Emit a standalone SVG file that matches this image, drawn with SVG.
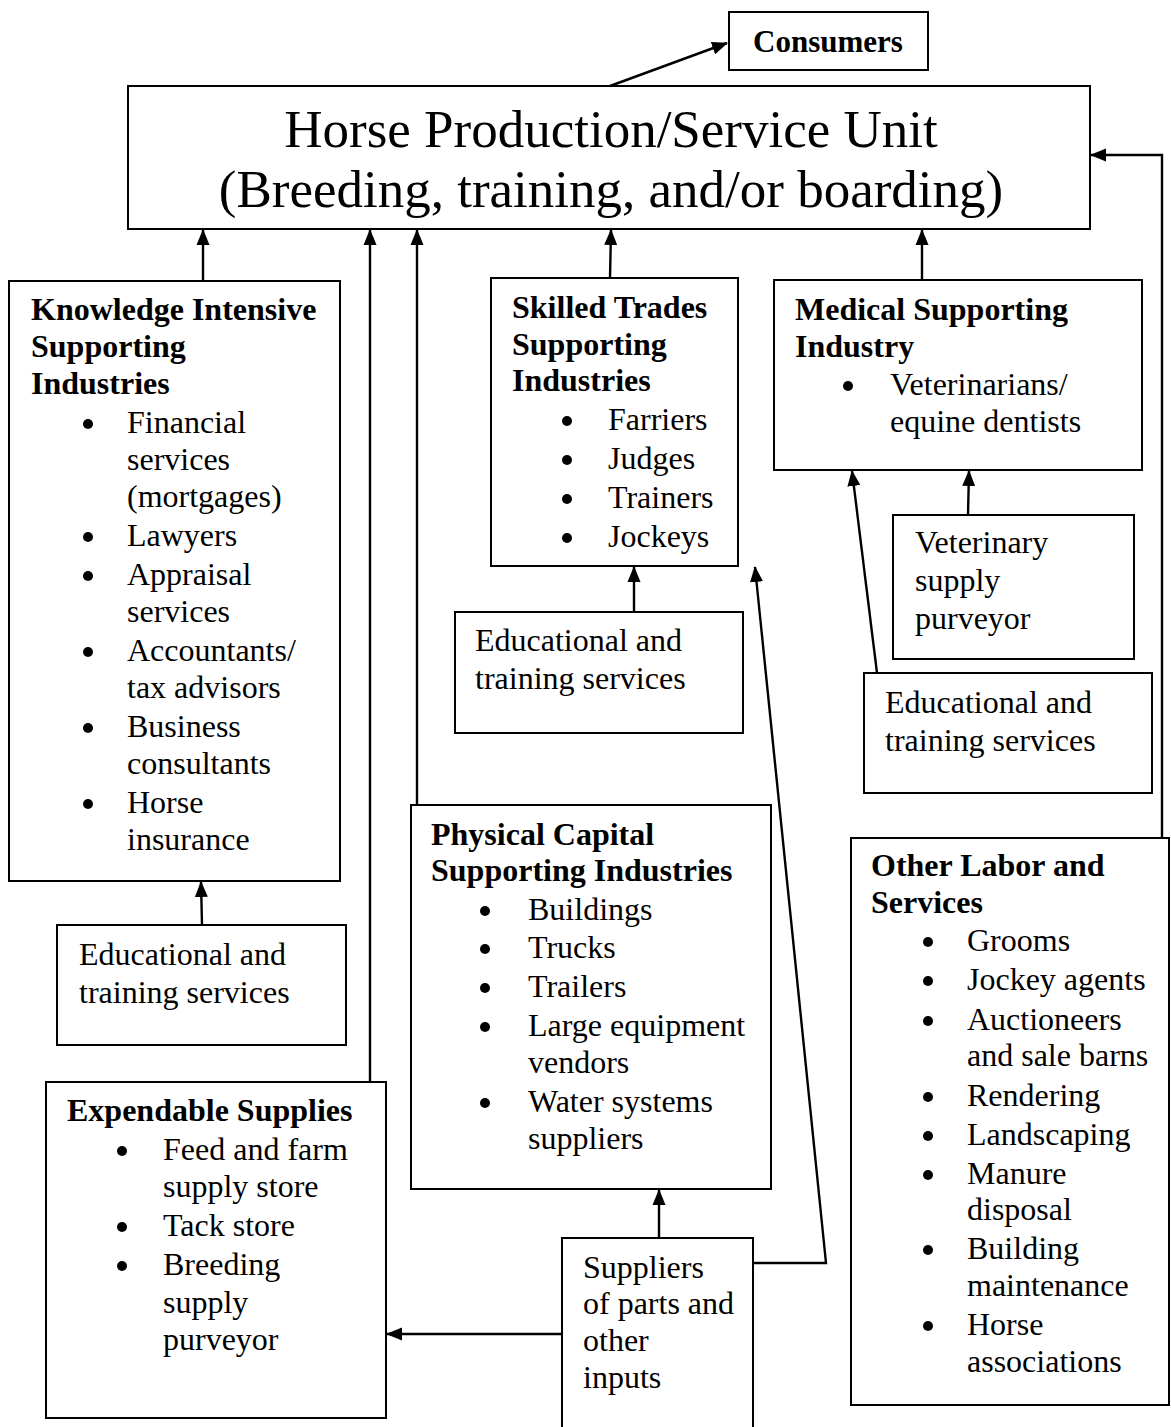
<svg xmlns="http://www.w3.org/2000/svg" width="1171" height="1427" viewBox="0 0 1171 1427">
<style>
.box{fill:#fff;stroke:#000;stroke-width:2}
text{font-family:"Liberation Serif","Times New Roman",serif;font-size:32px;fill:#000}
.b{font-weight:bold}
.big{font-size:53px}
.c{stroke:#000;stroke-width:2.4;fill:none;marker-end:url(#ah)}
.dot{fill:#000}
</style>
<defs>
<marker id="ah" markerUnits="userSpaceOnUse" markerWidth="16" markerHeight="16" viewBox="0 0 16 16" refX="15" refY="8" orient="auto">
<path d="M0,1.5 L16,8 L0,14.5 z" fill="#000"/>
</marker>
</defs>
<rect width="1171" height="1427" fill="#fff"/>

<g id="consumers">
<rect class="box" x="729" y="12" width="199" height="58"/>
<text class="b" x="828" y="52" text-anchor="middle" style="font-size:31px">Consumers</text>
</g>

<g id="main">
<rect class="box" x="128" y="86" width="962" height="143"/>
<text class="big" x="611" y="147" text-anchor="middle">Horse Production/Service Unit</text>
<text class="big" x="611" y="207" text-anchor="middle">(Breeding, training, and/or boarding)</text>
</g>

<g id="knowledge">
<rect class="box" x="9" y="281" width="331" height="600"/>
<text class="b" x="31" y="320">Knowledge Intensive</text>
<text class="b" x="31" y="357">Supporting</text>
<text class="b" x="31" y="394">Industries</text>
<circle class="dot" cx="88" cy="424" r="5"/><text x="127" y="433">Financial</text>
<text x="127" y="470">services</text>
<text x="127" y="507">(mortgages)</text>
<circle class="dot" cx="88" cy="537" r="5"/><text x="127" y="546">Lawyers</text>
<circle class="dot" cx="88" cy="576" r="5"/><text x="127" y="585">Appraisal</text>
<text x="127" y="622">services</text>
<circle class="dot" cx="88" cy="652" r="5"/><text x="127" y="661">Accountants/</text>
<text x="127" y="698">tax advisors</text>
<circle class="dot" cx="88" cy="728" r="5"/><text x="127" y="737">Business</text>
<text x="127" y="774">consultants</text>
<circle class="dot" cx="88" cy="804" r="5"/><text x="127" y="813">Horse</text>
<text x="127" y="850">insurance</text>
</g>

<g id="edu1">
<rect class="box" x="57" y="925" width="289" height="120"/>
<text x="79" y="965">Educational and</text>
<text x="79" y="1003">training services</text>
</g>

<g id="expendable">
<rect class="box" x="46" y="1082" width="340" height="336"/>
<text class="b" x="67" y="1121">Expendable Supplies</text>
<circle class="dot" cx="122" cy="1151" r="5"/><text x="163" y="1160">Feed and farm</text>
<text x="163" y="1197">supply store</text>
<circle class="dot" cx="122" cy="1227" r="5"/><text x="163" y="1236">Tack store</text>
<circle class="dot" cx="122" cy="1266" r="5"/><text x="163" y="1275">Breeding</text>
<text x="163" y="1313">supply</text>
<text x="163" y="1350">purveyor</text>
</g>

<g id="skilled">
<rect class="box" x="491" y="278" width="247" height="288"/>
<text class="b" x="512" y="318">Skilled Trades</text>
<text class="b" x="512" y="355">Supporting</text>
<text class="b" x="512" y="391">Industries</text>
<circle class="dot" cx="567" cy="421" r="5"/><text x="608" y="430">Farriers</text>
<circle class="dot" cx="567" cy="460" r="5"/><text x="608" y="469">Judges</text>
<circle class="dot" cx="567" cy="499" r="5"/><text x="608" y="508">Trainers</text>
<circle class="dot" cx="567" cy="538" r="5"/><text x="608" y="547">Jockeys</text>
</g>

<g id="edu2">
<rect class="box" x="455" y="612" width="288" height="121"/>
<text x="475" y="651">Educational and</text>
<text x="475" y="689">training services</text>
</g>

<g id="medical">
<rect class="box" x="774" y="280" width="368" height="190"/>
<text class="b" x="795" y="320">Medical Supporting</text>
<text class="b" x="795" y="357">Industry</text>
<circle class="dot" cx="848" cy="386" r="5"/><text x="890" y="395">Veterinarians/</text>
<text x="890" y="432">equine dentists</text>
</g>

<g id="vetsupply">
<rect class="box" x="893" y="515" width="241" height="144"/>
<text x="915" y="553">Veterinary</text>
<text x="915" y="591">supply</text>
<text x="915" y="629">purveyor</text>
</g>

<g id="edu3">
<rect class="box" x="864" y="673" width="288" height="120"/>
<text x="885" y="713">Educational and</text>
<text x="885" y="751">training services</text>
</g>

<g id="physical">
<rect class="box" x="411" y="805" width="360" height="384"/>
<text class="b" x="431" y="845">Physical Capital</text>
<text class="b" x="431" y="881">Supporting Industries</text>
<circle class="dot" cx="485" cy="911" r="5"/><text x="528" y="920">Buildings</text>
<circle class="dot" cx="485" cy="949" r="5"/><text x="528" y="958">Trucks</text>
<circle class="dot" cx="485" cy="988" r="5"/><text x="528" y="997">Trailers</text>
<circle class="dot" cx="485" cy="1027" r="5"/><text x="528" y="1036">Large equipment</text>
<text x="528" y="1073">vendors</text>
<circle class="dot" cx="485" cy="1103" r="5"/><text x="528" y="1112">Water systems</text>
<text x="528" y="1149">suppliers</text>
</g>

<g id="suppliers">
<rect class="box" x="562" y="1238" width="191" height="200"/>
<text x="583" y="1278">Suppliers</text>
<text x="583" y="1314">of parts and</text>
<text x="583" y="1351">other</text>
<text x="583" y="1388">inputs</text>
</g>

<g id="otherlabor">
<rect class="box" x="851" y="838" width="318" height="567"/>
<text class="b" x="871" y="876">Other Labor and</text>
<text class="b" x="871" y="913">Services</text>
<circle class="dot" cx="928" cy="942" r="5"/><text x="967" y="951">Grooms</text>
<circle class="dot" cx="928" cy="981" r="5"/><text x="967" y="990">Jockey agents</text>
<circle class="dot" cx="928" cy="1021" r="5"/><text x="967" y="1030">Auctioneers</text>
<text x="967" y="1066">and sale barns</text>
<circle class="dot" cx="928" cy="1097" r="5"/><text x="967" y="1106">Rendering</text>
<circle class="dot" cx="928" cy="1136" r="5"/><text x="967" y="1145">Landscaping</text>
<circle class="dot" cx="928" cy="1175" r="5"/><text x="967" y="1184">Manure</text>
<text x="967" y="1220">disposal</text>
<circle class="dot" cx="928" cy="1250" r="5"/><text x="967" y="1259">Building</text>
<text x="967" y="1296">maintenance</text>
<circle class="dot" cx="928" cy="1326" r="5"/><text x="967" y="1335">Horse</text>
<text x="967" y="1372">associations</text>
</g>

<g id="connectors">
<path class="c" d="M610,86 L727,43"/>
<path class="c" d="M203,281 L203,230"/>
<path class="c" d="M370,1082 L370,230"/>
<path class="c" d="M417,805 L417,230"/>
<path class="c" d="M610,278 L611,230"/>
<path class="c" d="M922,280 L922,230"/>
<path class="c" d="M1162,838 L1162,155 L1091,155"/>
<path class="c" d="M202,925 L201,882"/>
<path class="c" d="M634,612 L634,567"/>
<path class="c" d="M968,515 L969,471"/>
<path class="c" d="M877,673 L852,471"/>
<path class="c" d="M659,1238 L659,1190"/>
<path class="c" d="M562,1334 L387,1334"/>
<path class="c" d="M753,1263 L826,1263 L755,567"/>
</g>
</svg>
